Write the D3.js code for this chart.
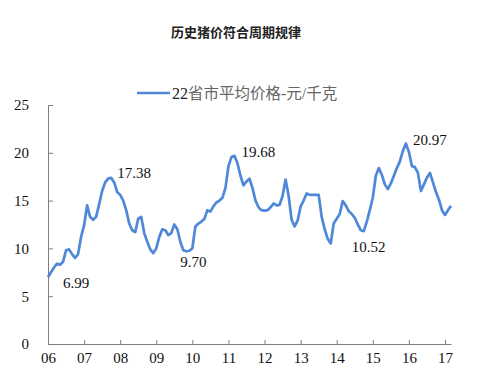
<!DOCTYPE html>
<html>
<head>
<meta charset="utf-8">
<script src="https://cdn.jsdelivr.net/npm/d3@7"></script>
<style>
  body { margin: 0; background: #fff; }
  svg { display: block; }
  .serif { font-family: 'Liberation Serif', 'Times New Roman', serif; }
</style>
</head>
<body>
<div id="chart"></div>
<script>
// chart data, monthly from Jan 2006
const yearLabels = ["06", "07", "08", "09", "10", "11", "12", "13", "14", "15", "16", "17"];
const yTicks = [0, 5, 10, 15, 20, 25];
const prices = [
  6.99, 7.5, 8.0, 8.4, 8.3, 8.6, 9.8, 9.9, 9.4, 9.0, 9.4, 11.2,
  12.4, 14.5, 13.3, 13.0, 13.3, 14.6, 16.0, 16.9, 17.3, 17.38, 16.9, 15.9,
  15.6, 15.0, 14.0, 12.6, 11.9, 11.7, 13.1, 13.3, 11.6, 10.7, 9.9, 9.5,
  10.0, 11.2, 12.0, 11.9, 11.4, 11.6, 12.5, 12.0, 10.7, 9.8, 9.70, 9.75,
  10.0, 12.3, 12.6, 12.8, 13.1, 14.0, 13.85, 14.4, 14.8, 15.0, 15.3, 16.3,
  18.6, 19.55, 19.68, 18.9, 17.6, 16.6, 17.0, 17.3, 16.3, 15.0, 14.3, 14.0,
  13.95, 14.0, 14.3, 14.7, 14.5, 14.55, 15.5, 17.2, 15.5, 13.0, 12.3, 12.9,
  14.4, 15.0, 15.75, 15.6, 15.6, 15.6, 15.6, 13.3, 12.0, 11.0, 10.52, 12.6,
  13.1, 13.6, 14.95, 14.5, 13.9, 13.6, 13.2, 12.5, 11.9, 11.8, 12.8, 14.0,
  15.3, 17.6, 18.4, 17.7, 16.7, 16.2, 16.8, 17.6, 18.4, 19.1, 20.2, 20.97,
  20.1, 18.6, 18.5, 17.9, 16.0, 16.7, 17.4, 17.9, 16.9, 15.9, 15.1, 14.0,
  13.5, 14.0, 14.45
];
// months (index into prices) that get a value label
const labelledMonths = [0, 21, 46, 62, 94, 119];

const width = 500;
const height = 384;

const svg = d3.select('#chart')
  .append('svg')
  .attr('width', width)
  .attr('height', height);

const x = d3.scaleLinear().domain([0, 134]).range([48, 451]);
const y = d3.scaleLinear().domain([0, 25]).range([344, 105]);

// title
svg.append('text')
  .attr('x', 236)
  .attr('y', 37)
  .attr('text-anchor', 'middle')
  .style('font-family', "'Noto Sans CJK SC', sans-serif")
  .attr('font-weight', 'bold')
  .attr('font-size', 13)
  .attr('fill', '#222')
  .text('历史猪价符合周期规律');

// legend
svg.append('line')
  .attr('x1', 137).attr('x2', 170)
  .attr('y1', 93).attr('y2', 93)
  .attr('stroke', '#4f88d8')
  .attr('stroke-width', 2.5);

const legendText = svg.append('text')
  .attr('class', 'serif')
  .attr('x', 172)
  .attr('y', 99)
  .attr('font-size', 16)
  .attr('fill', '#666');
legendText.append('tspan').attr('fill', '#222').text('22');
legendText.append('tspan')
  .style('font-family', "'Noto Sans CJK SC', sans-serif")
  .attr('font-size', 15.5)
  .text('省市平均价格');
legendText.append('tspan').text('-');
legendText.append('tspan')
  .style('font-family', "'Noto Sans CJK SC', sans-serif")
  .attr('font-size', 15.5)
  .text('元');
legendText.append('tspan').text('/');
legendText.append('tspan')
  .style('font-family', "'Noto Sans CJK SC', sans-serif")
  .attr('font-size', 15.5)
  .text('千克');

// axes
const yAxis = d3.axisLeft(y)
  .tickValues(yTicks)
  .tickSize(-5)
  .tickSizeOuter(0)
  .tickPadding(19);

const xAxis = d3.axisBottom(x)
  .tickValues(yearLabels.map((d, i) => i * 12))
  .tickFormat((d, i) => yearLabels[i])
  .tickSize(-4)
  .tickSizeOuter(0)
  .tickPadding(8);

const gy = svg.append('g')
  .attr('transform', `translate(${x(0)},0)`)
  .call(yAxis);

const gx = svg.append('g')
  .attr('transform', `translate(0,${y(0)})`)
  .call(xAxis);

[gx, gy].forEach(g => {
  g.attr('font-family', null).attr('font-size', null);
  g.select('.domain').attr('stroke', '#7f7f7f');
  g.selectAll('.tick line').attr('stroke', '#7f7f7f');
  g.selectAll('.tick text')
    .attr('class', 'serif')
    .attr('font-size', 15)
    .attr('fill', '#111');
});

// price line
const line = d3.line()
  .x((d, i) => x(i))
  .y(d => y(d));

svg.append('path')
  .datum(prices)
  .attr('fill', 'none')
  .attr('stroke', '#4f88d8')
  .attr('stroke-width', 2.7)
  .attr('stroke-linejoin', 'round')
  .attr('d', line);

// value labels next to peaks and troughs
const labelOffsets = [[15, 11], [6, 0], [-6, 16], [7, 1], [21, 9], [7, 1]];

svg.selectAll('.peak-label')
  .data(labelledMonths)
  .enter()
  .append('text')
  .attr('class', 'serif')
  .attr('x', (d, i) => x(d) + labelOffsets[i][0])
  .attr('y', (d, i) => y(prices[d]) + labelOffsets[i][1])
  .attr('font-size', 15)
  .attr('fill', '#111')
  .text(d => prices[d].toFixed(2));
</script>
</body>
</html>
